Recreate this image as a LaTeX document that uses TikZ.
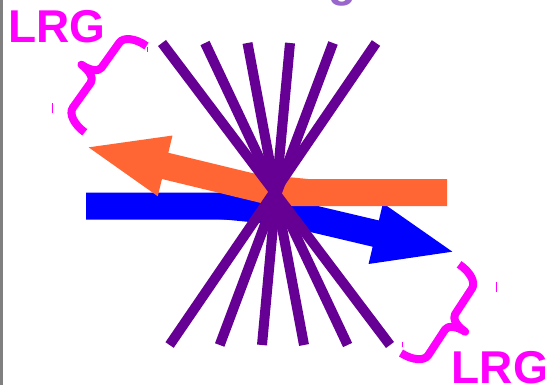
\documentclass[tikz,border=0pt]{standalone}
\usepackage{fontspec}
\setmainfont{Liberation Sans}
\usetikzlibrary{arrows.meta}
\definecolor{purp}{RGB}{102,0,148}
\definecolor{orng}{RGB}{255,102,51}
\definecolor{blu}{RGB}{0,0,255}
\definecolor{mag}{RGB}{255,0,255}
\definecolor{lilac}{RGB}{153,102,204}
\definecolor{bargray}{RGB}{128,128,128}
\tikzset{
  ray/.style={draw=purp, line width=10pt, line cap=butt},
  fatarrow/.style={line width=27pt, line join=miter, line cap=butt,
    -{Triangle[length=84pt,width=55pt]}},
  bracestyle/.style={draw=mag, line width=8pt, line join=round, line cap=butt},
  tick/.style={draw=mag, line width=0.8pt},
  lrg/.style={text=mag, inner sep=0pt, font=\fontsize{46}{46}\selectfont\bfseries}
}
\begin{document}
\begin{tikzpicture}[x=1pt,y=-1pt]
\useasboundingbox (0,0) rectangle (545,385);
\fill[white] (0,0) rectangle (545,385);
\fill[bargray] (0,0) rectangle (3,385);
% cut-off title letter
\node[anchor=base west, inner sep=0pt, text=lilac, font=\fontsize{46}{46}\selectfont\bfseries] (gtitle) at (328,-3.7) {g};
% arrows
\coordinate (bstart) at (86,206);
\coordinate (bbend) at (259,206);
\coordinate (btip) at (457.5,252.9);
\coordinate (ostart) at (447,192.5);
\coordinate (obend) at (275,192.5);
\coordinate (otip) at (83.5,146.1);
\draw[fatarrow, draw=blu, fill=blu] (bstart) -- (bbend) -- (btip);
\draw[fatarrow, draw=orng, fill=orng] (ostart) -- (obend) -- (otip);
% purple rays
\foreach \t/\b [count=\i] in {162/390, 205/347.6, 247.5/304, 290/262, 333/219.7, 376/169.6}{
  \coordinate (rt\i) at (\t,43);
  \coordinate (rb\i) at (\b,345);
  \draw[ray] (rt\i) -- (rb\i);
}
% braces
\begin{scope}[shift={(146.5,46)}, x={(-0.582pt,-0.814pt)}, y={(-0.814pt,0.582pt)}]
  \draw[bracestyle] (0,0) .. controls (0,13.2) and (5.85,24) .. (13,24) -- (44,24)
    .. controls (48.95,24) and (53,32.1) .. (53,42)
    .. controls (53,32.1) and (57.05,24) .. (62,24) -- (93,24)
    .. controls (100.15,24) and (106,13.2) .. (106,0);
\end{scope}
\begin{scope}[shift={(401,353)}, x={(0.548pt,0.836pt)}, y={(0.836pt,-0.548pt)}]
  \draw[bracestyle] (0,0) .. controls (0,13.2) and (5.85,24) .. (13,24) -- (44,24)
    .. controls (48.95,24) and (53,32.1) .. (53,42)
    .. controls (53,32.1) and (57.05,24) .. (62,24) -- (93,24)
    .. controls (100.15,24) and (106,13.2) .. (106,0);
\end{scope}
% small ticks
\draw[tick] (52,103) -- (52,113);
\draw[tick] (147,47) -- (147,52);
\draw[tick] (496,282) -- (496,292);
\draw[tick] (402,342) -- (402,347);
% labels
\node[lrg, anchor=base west] (lrgtop) at (8.3,43) {LRG};
\node[lrg, anchor=base west] (lrgbot) at (451.6,383) {LRG};
\end{tikzpicture}
\end{document}
